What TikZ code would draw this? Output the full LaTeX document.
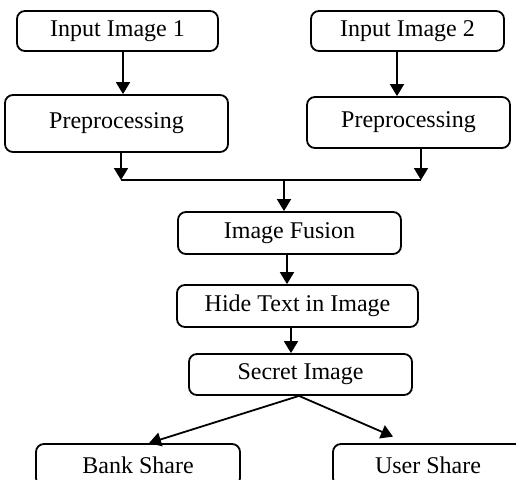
\documentclass[tikz,border=0pt]{standalone}
\usepackage{fontspec}
\setmainfont{Liberation Serif}
\usetikzlibrary{shapes,arrows.meta}
\tikzstyle{block} = [rectangle, draw, line width=0.9pt, rounded corners=4pt,
    inner sep=0pt, text centered, font=\fontsize{12}{14}\selectfont]
\tikzstyle{line} = [draw, line width=0.9pt, -{Triangle[length=6pt,width=7pt]}]

\begin{document}
\begin{tikzpicture}[x=0.5pt, y=-0.5pt]
	\clip (0,0) rectangle (516,479);

		\node [block, minimum width=100.5pt, minimum height=20pt] (in1) at (117.5,31) {Input Image 1};
		\node [block, minimum width=96.5pt, minimum height=20pt] (in2) at (407.5,31) {Input Image 2};

		\node [block, minimum width=111.5pt, minimum height=28.5pt] (pre1) at (116.5,123.5) {Preprocessing};
		\node [block, minimum width=101.5pt, minimum height=25.5pt] (pre2) at (408.5,122.5) {Preprocessing};

		\node [block, minimum width=111.5pt, minimum height=21pt] (fusion) at (289.5,233) {Image Fusion};
		\node [block, minimum width=120.5pt, minimum height=21pt] (hide) at (297.5,306) {Hide Text in Image};
		\node [block, minimum width=111.5pt, minimum height=20.5pt] (secret) at (300.5,374.5) {Secret Image};

		\node [block, minimum width=102pt, minimum height=21pt] (bank) at (138,465) {Bank Share};
		\node [block, minimum width=95pt, minimum height=21pt] (user) at (428,465) {User Share};

		% joining line
		\coordinate (j1) at (121,180);
		\coordinate (j2) at (421,180);
		\coordinate (jm) at (284,180);

		\path [line] ([xshift=2.75pt]in1.south) -- ([xshift=2.75pt]in1.south |- pre1.north);
		\path [line] ([xshift=-5.25pt]in2.south) -- ([xshift=-5.25pt]in2.south |- pre2.north);

		\path [line] (pre1.south -| j1) -- (j1);
		\path [line] (pre2.south -| j2) -- (j2);
		\draw [line width=0.9pt] (j1) -- (j2);
		\path [line] (jm) -- (jm |- fusion.north);

		\path [line] ([xshift=-1.25pt]fusion.south) -- ([xshift=-1.25pt]fusion.south |- hide.north);
		\path [line] ([xshift=-3.25pt]hide.south) -- ([xshift=-3.25pt]hide.south |- secret.north);

		\path [line] ([xshift=-0.75pt]secret.south) -- ([xshift=5.5pt]bank.north);
		\path [line] ([xshift=-0.75pt]secret.south) -- ([shift={(-17.5pt,3.25pt)}]user.north);
	\end{tikzpicture}
\end{document}
